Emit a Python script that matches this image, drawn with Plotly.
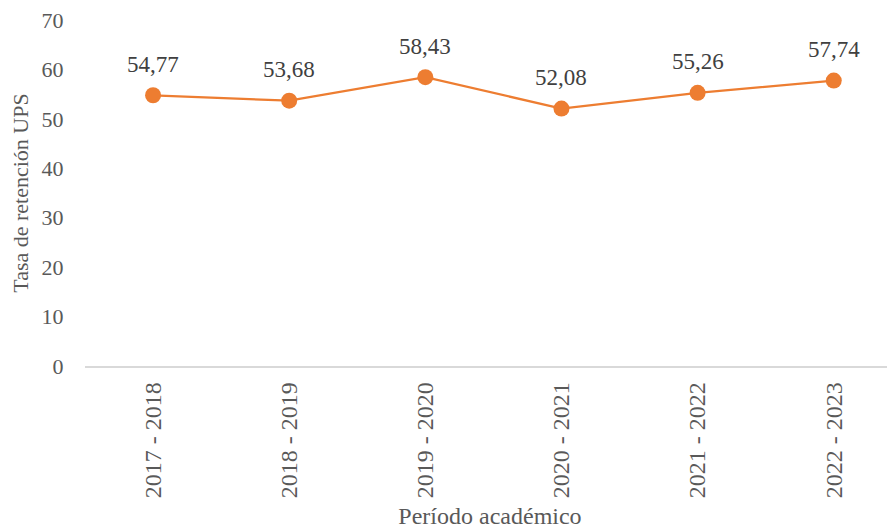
import plotly.graph_objects as go

periodos = ["2017 - 2018", "2018 - 2019", "2019 - 2020", "2020 - 2021", "2021 - 2022", "2022 - 2023"]
tasa = [54.77, 53.68, 58.43, 52.08, 55.26, 57.74]
etiquetas = ["54,77", "53,68", "58,43", "52,08", "55,26", "57,74"]

FONT = "Liberation Serif, Times New Roman, serif"

fig = go.Figure()
fig.add_trace(go.Scatter(
    x=periodos, y=tasa, mode="lines+markers",
    line=dict(color="#ED7D31", width=2.25),
    marker=dict(color="#ED7D31", size=16),
    hoverinfo="skip", showlegend=False,
))
for p, v, t in zip(periodos, tasa, etiquetas):
    fig.add_annotation(x=p, y=v, text=t, showarrow=False, yshift=31,
                       font=dict(family=FONT, size=23, color="#404040"))

fig.update_layout(
    width=887, height=523,
    margin=dict(l=77, r=0, t=8, b=165),
    paper_bgcolor="white", plot_bgcolor="white",
    font=dict(family=FONT, color="#595959", size=22),
)
fig.update_xaxes(
    type="category", range=[-0.5, 5.45],
    showline=True, linecolor="#D9D9D9", linewidth=1.5,
    showgrid=False, zeroline=False,
    tickangle=-90, ticks="outside", ticklen=5, tickcolor="rgba(0,0,0,0)",
    tickfont=dict(family=FONT, size=24, color="#595959"),
    title=dict(text="Período académico", standoff=10,
               font=dict(family=FONT, size=24, color="#595959")),
)
fig.update_yaxes(
    range=[0, 70], dtick=10, showline=False, showgrid=False, zeroline=False,
    ticks="outside", ticklen=16, tickcolor="rgba(0,0,0,0)",
    ticklabeloverflow="allow",
    tickfont=dict(family=FONT, size=22, color="#595959"),
    title=dict(text="Tasa de retención UPS", standoff=13,
               font=dict(family=FONT, size=22, color="#595959")),
)
fig.write_html("out.html")
